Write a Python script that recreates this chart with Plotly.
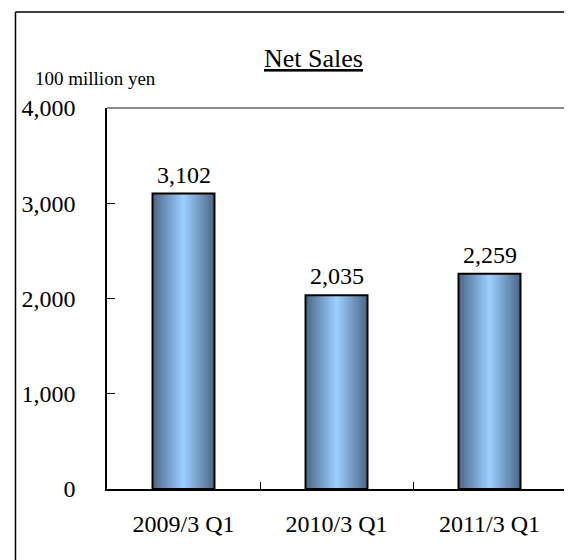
import plotly.graph_objects as go

categories = ["2009/3 Q1", "2010/3 Q1", "2011/3 Q1"]
values = [3102, 2035, 2259]
y_ticks = [0, 1000, 2000, 3000, 4000]
y_tick_labels = ["0", "1,000", "2,000", "3,000", "4,000"]
title_text = "Net Sales"
unit_text = "100 million yen"

FONT = "Liberation Serif, Times New Roman, Times, serif"
OFF = 8  # page body margin offset
W, H = 572, 560
# target screen pixels of the plot area
SX0, SX1, SY0, SY1 = 107, 566, 108, 489
ML, MT = SX0 - OFF, SY0 - OFF
MR, MB = W - (SX1 - OFF), H - (SY1 - OFF)
PW, PH = SX1 - SX0, SY1 - SY0

def px_x(p):
    return (p - SX0) / PW

def px_y(p):
    return (SY1 - p) / PH

bar_w = 0.405
dark = (76, 106, 138)
light = (156, 206, 255)
N = 24

fig = go.Figure()
for k in range(N):
    t = k / (N - 1)  # 0 edge -> 1 centre
    c = tuple(int(round(dark[i] + (light[i] - dark[i]) * t)) for i in range(3))
    fig.add_trace(go.Bar(
        x=categories, y=values,
        width=[bar_w * (1 - k / N)] * len(values),
        marker=dict(color=f"rgb{c}", line=dict(width=0)),
        hoverinfo="skip", showlegend=False,
    ))
fig.add_trace(go.Bar(
    x=categories, y=values, width=[bar_w] * len(values),
    marker=dict(color="rgba(0,0,0,0)", line=dict(color="black", width=2)),
    showlegend=False,
))

for c, v in zip(categories, values):
    fig.add_annotation(x=c, y=v, text=f"{v:,}", showarrow=False,
                       yanchor="bottom", yshift=4,
                       font=dict(family=FONT, size=24, color="black"))

fig.add_annotation(xref="paper", yref="paper", x=px_x(313.5), y=px_y(59),
                   text=f"<u>{title_text}</u>", showarrow=False,
                   xanchor="center", yanchor="middle",
                   font=dict(family=FONT, size=26, color="black"))
fig.add_annotation(xref="paper", yref="paper", x=px_x(33), y=px_y(78.5),
                   text=unit_text, showarrow=False,
                   xanchor="left", yanchor="middle",
                   font=dict(family=FONT, size=19, color="black"))

# outer frame (left and top edges visible)
fig.add_shape(type="line", xref="paper", yref="paper",
              x0=px_x(15.5), y0=px_y(12), x1=px_x(15.5), y1=px_y(580),
              line=dict(color="black", width=1.5))
fig.add_shape(type="line", xref="paper", yref="paper",
              x0=px_x(15.5), y0=px_y(12), x1=px_x(590), y1=px_y(12),
              line=dict(color="black", width=1.5))
# plot area top / right border (grey)
fig.add_shape(type="line", xref="paper", yref="paper",
              x0=0, y0=1, x1=1, y1=1, line=dict(color="#8c8c8c", width=2))
fig.add_shape(type="line", xref="paper", yref="paper",
              x0=1, y0=0, x1=1, y1=1, line=dict(color="#a0a0a0", width=2))

fig.update_layout(
    width=W, height=H,
    margin=dict(l=ML, r=MR, t=MT, b=MB, pad=0),
    paper_bgcolor="white", plot_bgcolor="white",
    barmode="overlay",
    font=dict(family=FONT, size=22, color="black"),
    xaxis=dict(type="category", showgrid=False, zeroline=False,
               showline=True, linecolor="black", linewidth=1.5,
               ticks="inside", tickson="boundaries", ticklen=7,
               tickcolor="black", tickwidth=1,
               tickfont=dict(family=FONT, size=24, color="black"),
               ticklabelstandoff=12),
    yaxis=dict(range=[0, 4000], tickvals=y_ticks, ticktext=y_tick_labels,
               showgrid=False, zeroline=False,
               showline=True, linecolor="black", linewidth=1.5,
               ticks="inside", ticklen=8, tickcolor="black", tickwidth=1,
               tickfont=dict(family=FONT, size=24, color="black"),
               ticklabelstandoff=25),
)

fig.write_html("out.html")
